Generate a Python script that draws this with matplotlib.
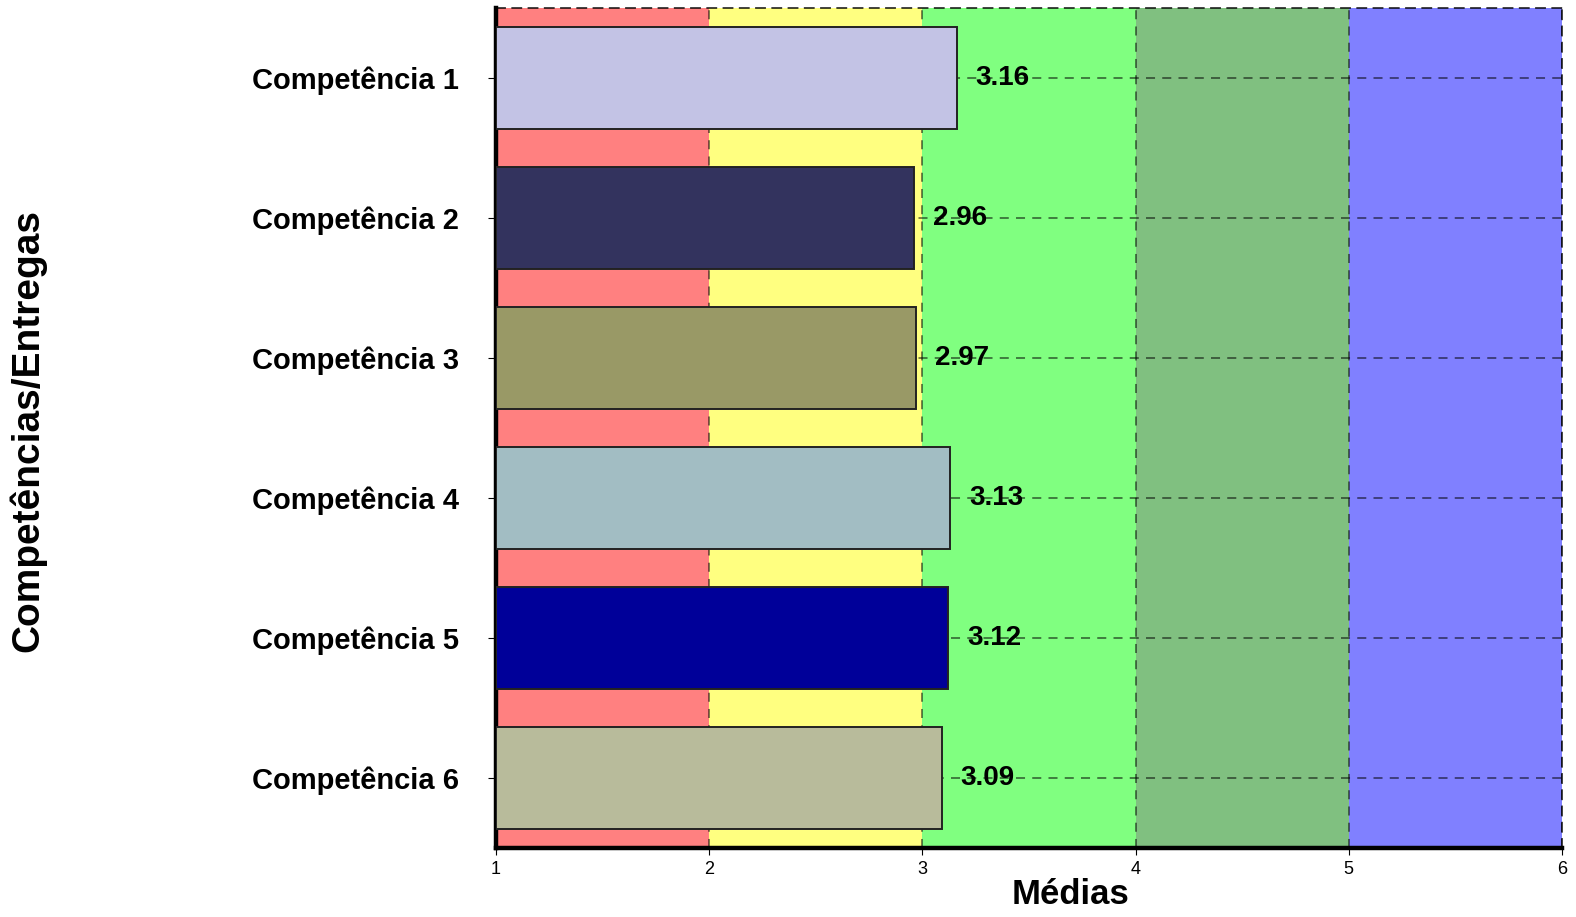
import matplotlib.pyplot as plt

plt.rcParams["font.family"] = ["Liberation Sans", "DejaVu Sans"]

# médias por competência
competencias = ["Competência 1", "Competência 2", "Competência 3",
                "Competência 4", "Competência 5", "Competência 6"]
medias = [3.16, 2.96, 2.97, 3.13, 3.12, 3.09]
cores_barras = ["#C3C3E5", "#33335E", "#999966", "#A2BDC3", "#000099", "#B8BB9B"]

# faixas de fundo (início, fim, cor)
faixas_inicio = [1, 2, 3, 4, 5]
faixas_fim = [2, 3, 4, 5, 6]
faixas_cores = ["#FF8080", "#FFFF80", "#80FF80", "#80C080", "#8080FF"]

fig = plt.figure(figsize=(15.76, 9.17), dpi=100)
ax = fig.add_axes([496 / 1576, 1 - 848 / 917, (1562 - 496) / 1576, (848 - 8) / 917])

for a, b, c in zip(faixas_inicio, faixas_fim, faixas_cores):
    ax.axvspan(a, b, color=c, zorder=0, lw=0)

pos = list(range(len(competencias)))
ax.barh(pos, [m - 1 for m in medias], left=1, height=0.73,
        color=cores_barras, edgecolor="#222222", linewidth=1.4, zorder=3)

for p, m in zip(pos, medias):
    ax.text(m + 0.09, p, f"{m:.2f}", va="center", ha="left",
            fontsize=20, fontweight="bold", zorder=4)

ax.set_xlim(1, 6)
ax.set_ylim(len(competencias) - 0.5, -0.5)
ax.set_xticks([1, 2, 3, 4, 5, 6])
ax.set_yticks(pos)
ax.set_yticklabels(competencias, fontsize=21, fontweight="bold")
ax.tick_params(axis="y", length=6, pad=21)
ax.tick_params(axis="x", length=5, labelsize=13, pad=4)

ax.grid(True, linestyle=(0, (5, 4)), color="black", alpha=0.55, linewidth=1.3, zorder=1)
ax.set_axisbelow(True)

for s in ["left", "bottom"]:
    ax.spines[s].set_linewidth(3.2)
for s in ["top", "right"]:
    ax.spines[s].set_linestyle((0, (5, 4)))
    ax.spines[s].set_linewidth(1.3)
    ax.spines[s].set_alpha(0.8)

fig.text(1071 / 1576, 1 - 895 / 917, "Médias", fontsize=25,
         fontweight="bold", ha="center", va="center")
fig.text(28 / 1576, 1 - 430 / 917, "Competências/Entregas", rotation=90,
         fontsize=28, fontweight="bold", ha="center", va="center")

fig.savefig("out.png")
